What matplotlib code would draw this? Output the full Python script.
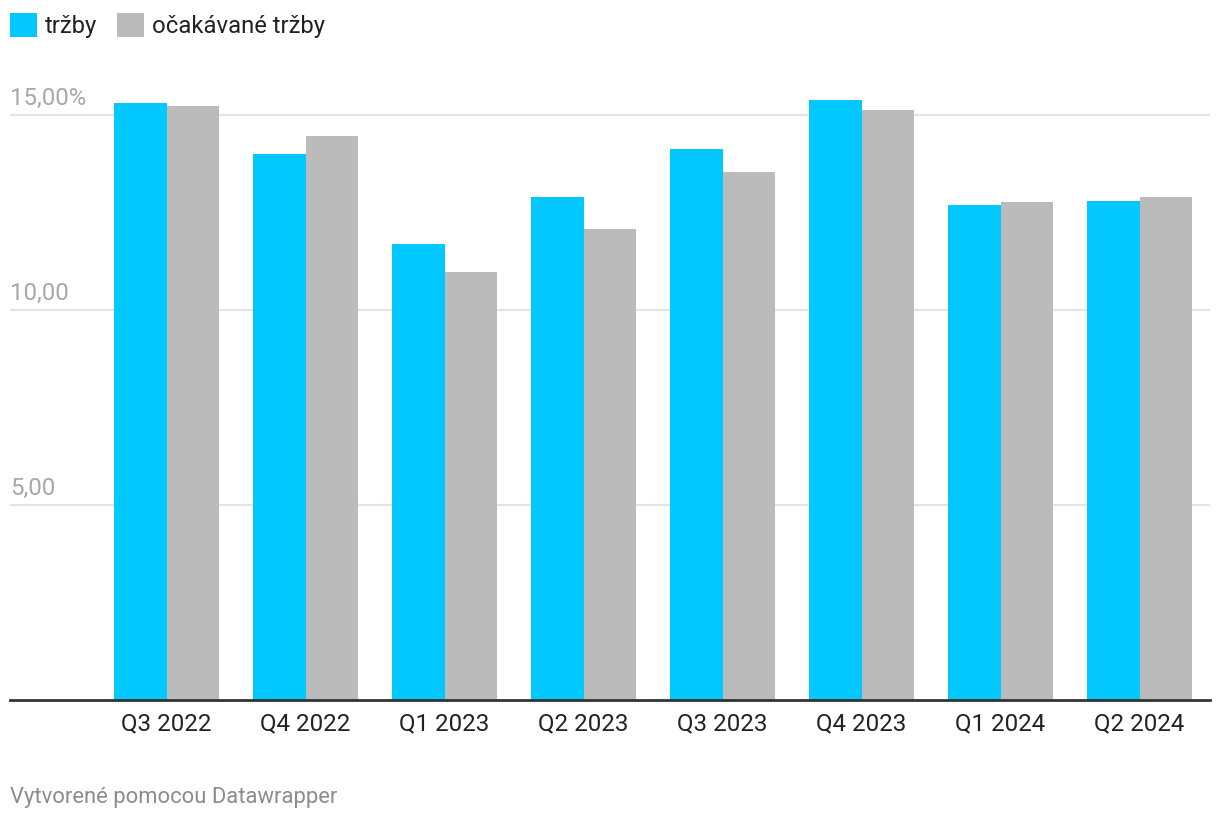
import matplotlib
matplotlib.use("Agg")
import matplotlib.pyplot as plt
from matplotlib.patches import Patch
from matplotlib.transforms import ScaledTranslation
import numpy as np

plt.rcParams['font.family'] = ['Roboto', 'DejaVu Sans']

categories = ["Q3 2022", "Q4 2022", "Q1 2023", "Q2 2023", "Q3 2023", "Q4 2023", "Q1 2024", "Q2 2024"]
trzby = [15.31, 14.00, 11.69, 12.92, 14.13, 15.40, 12.69, 12.80]
ocakavane = [15.23, 14.46, 10.97, 12.08, 13.54, 15.13, 12.77, 12.90]
series_names = ["tržby", "očakávané tržby"]
yticks = [5, 10, 15]
ytick_labels = ["5,00", "10,00", "15,00%"]
footer = "Vytvorené pomocou Datawrapper"

c_blue = "#03c7ff"
c_gray = "#bbbbbb"

W, H = 1220, 822
fig = plt.figure(figsize=(W / 100, H / 100), dpi=100)
ax_left, ax_right = 10 / W, 1210 / W
ax_bottom = (H - 700) / H
ax_top = (H - 90) / H
ax = fig.add_axes([ax_left, ax_bottom, ax_right - ax_left, ax_top - ax_bottom])

x = np.arange(len(categories))
bw = 0.378
ax.bar(x - bw / 2, trzby, width=bw, color=c_blue, zorder=3, linewidth=0)
ax.bar(x + bw / 2, ocakavane, width=bw, color=c_gray, zorder=3, linewidth=0)

ax.set_xlim(-1.126, 7.507)
ax.set_ylim(0, 610 / 38.97)

ax.set_yticks(yticks)
ax.set_yticklabels([])
ax.tick_params(axis='y', length=0)
ax.yaxis.grid(True, color="#e3e3e3", linewidth=1.5, zorder=0)
ax.set_axisbelow(True)
offset = ScaledTranslation(0, 5 / 100, fig.dpi_scale_trans)
for v, lab in zip(yticks, ytick_labels):
    ax.text(0, v, lab, transform=ax.get_yaxis_transform() + offset, ha='left', va='bottom',
            fontsize=17.3, color="#a8a8a8")

ax.set_xticks(x)
ax.set_xticklabels(categories, fontsize=17.4, color="#222222")
ax.tick_params(axis='x', length=0, pad=9)

for s in ["top", "right", "left"]:
    ax.spines[s].set_visible(False)
ax.spines["bottom"].set_color("#333333")
ax.spines["bottom"].set_linewidth(2)
ax.spines["bottom"].set_zorder(4)

handles = [Patch(facecolor=c_blue, edgecolor='none'), Patch(facecolor=c_gray, edgecolor='none')]
fig.legend(handles, series_names, loc='upper left', bbox_to_anchor=(10 / W, 1 - 13 / H),
           ncol=2, frameon=False, fontsize=17.2, handlelength=1.15, handleheight=1.15,
           handletextpad=0.33, columnspacing=0.8, borderpad=0, borderaxespad=0,
           labelcolor="#222222")

fig.text(10 / W, 1 - 797 / H, footer, ha='left', va='center', fontsize=15.8, color="#8c8c8c")

fig.savefig("out.png", dpi=100)
